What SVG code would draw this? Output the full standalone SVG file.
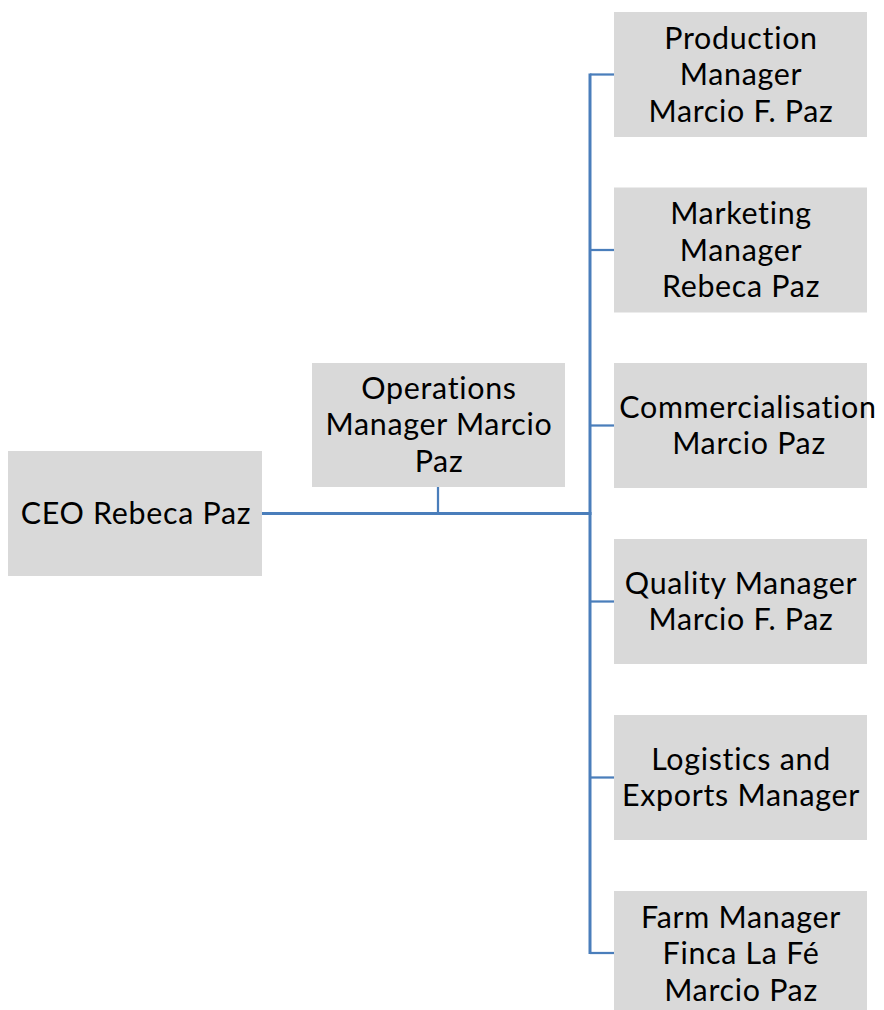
<svg xmlns="http://www.w3.org/2000/svg" width="884" height="1010" viewBox="0 0 884 1010">
<style>
.box{fill:#d9d9d9}
.t{font-family:Lato,"Open Sans","Liberation Sans",sans-serif;font-size:30.4px;letter-spacing:0.7px;font-variant-ligatures:none;fill:#000;text-anchor:middle}
.spine{stroke:#4a7ebb;stroke-width:3;fill:none}
.br{stroke:#4a7ebb;stroke-width:2.25;fill:none}
</style>
<rect width="884" height="1010" fill="#fff"/>
<g id="connectors">
<line class="spine" x1="262" y1="513.5" x2="591.5" y2="513.5"/>
<line class="br" x1="438" y1="487" x2="438" y2="513.5"/>
<line class="spine" x1="590" y1="73.5" x2="590" y2="954"/>
<line class="br" x1="590" y1="74.5" x2="614" y2="74.5"/>
<line class="br" x1="590" y1="250" x2="614" y2="250"/>
<line class="br" x1="590" y1="425.5" x2="614" y2="425.5"/>
<line class="br" x1="590" y1="601.5" x2="614" y2="601.5"/>
<line class="br" x1="590" y1="777.5" x2="614" y2="777.5"/>
<line class="br" x1="590" y1="953" x2="614" y2="953"/>
</g>
<g id="ceo">
<rect class="box" x="8" y="451" width="254" height="125"/>
<text class="t" x="136" y="524">CEO Rebeca Paz</text>
</g>
<g id="operations">
<rect class="box" x="312" y="363" width="253" height="124"/>
<text class="t" x="439" y="398.5">Operations</text>
<text class="t" x="439" y="435">Manager Marcio</text>
<text class="t" x="439" y="471.5">Paz</text>
</g>
<g id="production">
<rect class="box" x="614" y="12" width="253" height="125"/>
<text class="t" x="741" y="48.5">Production</text>
<text class="t" x="741" y="85">Manager</text>
<text class="t" x="741" y="121.5">Marcio F. Paz</text>
</g>
<g id="marketing">
<rect class="box" x="614" y="187.5" width="253" height="125"/>
<text class="t" x="741" y="224">Marketing</text>
<text class="t" x="741" y="260.5">Manager</text>
<text class="t" x="741" y="297">Rebeca Paz</text>
</g>
<g id="commercialisation">
<rect class="box" x="614" y="363" width="253" height="125"/>
<text class="t" x="748" y="417.5">Commercialisation</text>
<text class="t" x="749" y="454">Marcio Paz</text>
</g>
<g id="quality">
<rect class="box" x="614" y="539" width="253" height="125"/>
<text class="t" x="741" y="593.5">Quality Manager</text>
<text class="t" x="741" y="630">Marcio F. Paz</text>
</g>
<g id="logistics">
<rect class="box" x="614" y="715" width="253" height="125"/>
<text class="t" x="741" y="769.5">Logistics and</text>
<text class="t" x="741" y="806">Exports Manager</text>
</g>
<g id="farm">
<rect class="box" x="614" y="891" width="253" height="125"/>
<text class="t" x="741" y="927.5">Farm Manager</text>
<text class="t" x="741" y="964">Finca La Fé</text>
<text class="t" x="741" y="1000.5">Marcio Paz</text>
</g>
</svg>
